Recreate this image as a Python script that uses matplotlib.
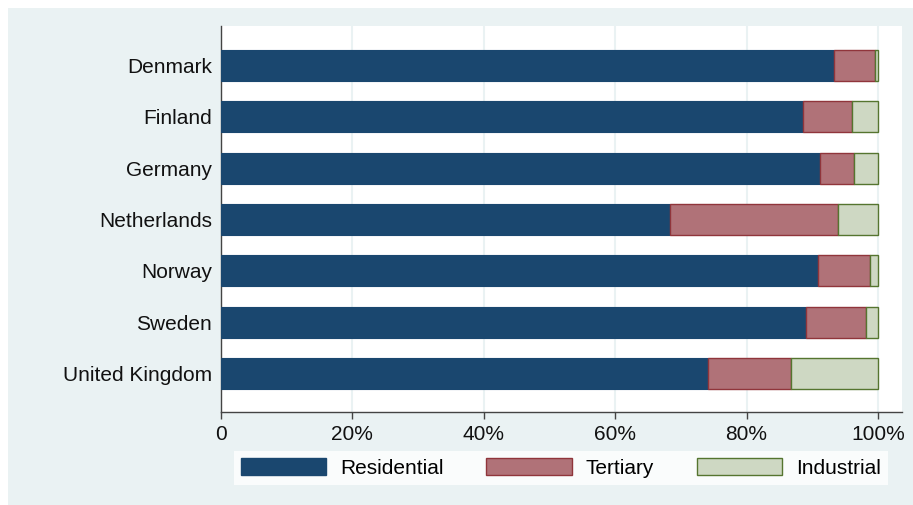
import matplotlib
matplotlib.use('Agg')
import matplotlib.pyplot as plt
from matplotlib.patches import Rectangle, Patch
import numpy as np

countries = ['Denmark', 'Finland', 'Germany', 'Netherlands', 'Norway', 'Sweden', 'United Kingdom']
residential = [93.3, 88.6, 91.1, 68.3, 90.9, 89.1, 74.1]
tertiary = [6.2, 7.5, 5.2, 25.6, 7.9, 9.0, 12.7]
industrial = [0.5, 3.9, 3.7, 6.1, 1.2, 1.9, 13.2]
tick_vals = [0, 20, 40, 60, 80, 100]
tick_labels = ['0', '20%', '40%', '60%', '80%', '100%']

plt.rcParams['font.family'] = ['Liberation Sans', 'DejaVu Sans']
FS = 15

BG = '#eaf2f3'
fig = plt.figure(figsize=(9.13, 5.05), dpi=100, facecolor='white')
# light background panel with thin white border at top/left
fig.patches.append(Rectangle((8 / 913, 0), 905 / 913, 497 / 505,
                             transform=fig.transFigure, facecolor=BG,
                             edgecolor='none', zorder=-10))

ax = fig.add_axes([221 / 913, 1 - 412 / 505, (902 - 221) / 913, (412 - 26) / 505])
ax.set_facecolor('white')

y = np.arange(len(countries))[::-1]
h = 0.6
res = np.array(residential)
ter = np.array(tertiary)
ind = np.array(industrial)

ax.barh(y, res, height=h, color='#1a476f', edgecolor='#1a476f', linewidth=0.8,
        label='Residential', zorder=3)
ax.barh(y, ter, left=res, height=h, color='#b07278', edgecolor='#90353b',
        linewidth=1.0, label='Tertiary', zorder=3)
ax.barh(y, ind, left=res + ter, height=h, color='#ced8c3', edgecolor='#55752f',
        linewidth=1.0, label='Industrial', zorder=3)

ax.set_xlim(0, 103.65)
ax.set_ylim(-0.75, 6.77)
ax.set_yticks(y)
ax.set_yticklabels(countries, fontsize=FS, color='#111111')
ax.tick_params(axis='y', length=0, pad=6.5)
ax.set_xticks(tick_vals)
ax.set_xticklabels(tick_labels, fontsize=FS, color='#111111')
ax.tick_params(axis='x', length=5, width=1, color='#444444', pad=4.5)
ax.grid(axis='x', color=BG, linewidth=1.5, zorder=0)
ax.set_axisbelow(True)

for s in ['top', 'right']:
    ax.spines[s].set_visible(False)
for s in ['left', 'bottom']:
    ax.spines[s].set_color('#444444')
    ax.spines[s].set_linewidth(1.0)

handles = [Patch(facecolor='#1a476f', edgecolor='#1a476f', label='Residential'),
           Patch(facecolor='#b07278', edgecolor='#90353b', label='Tertiary'),
           Patch(facecolor='#ced8c3', edgecolor='#55752f', label='Industrial')]
leg = fig.legend(handles=handles, ncol=3, loc='center',
                 bbox_to_anchor=(561 / 913, 1 - 468 / 505), fontsize=FS,
                 frameon=True, fancybox=False, handlelength=4.1, handleheight=0.9,
                 handletextpad=0.67, columnspacing=2.05, borderpad=0.35)
leg.get_frame().set_facecolor('white')
leg.get_frame().set_edgecolor('white')
leg.get_frame().set_linewidth(0)

fig.savefig('out.png', dpi=100, facecolor=fig.get_facecolor())
